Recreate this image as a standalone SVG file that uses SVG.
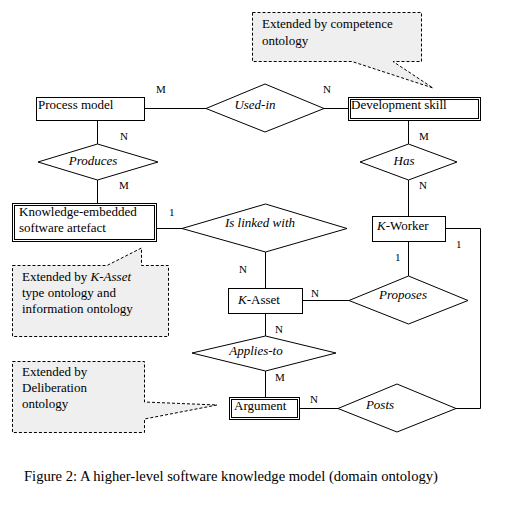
<svg xmlns="http://www.w3.org/2000/svg" width="516" height="506" viewBox="0 0 516 506" font-family="'Liberation Serif','Times New Roman',serif">
<style>
.b{fill:#fff;stroke:#000;stroke-width:1}
.d{fill:#fff;stroke:#000;stroke-width:1}
.c{fill:#efefef;stroke:#000;stroke-width:1;stroke-dasharray:3,2}
.ln{fill:none;stroke:#000;stroke-width:1}
text{font-family:"Liberation Serif","Times New Roman",serif;font-size:13px;fill:#000}
.i{font-style:italic}
.m{text-anchor:middle}
.s{font-size:11px}
.cap{font-size:14.6px}
</style>
<rect width="516" height="506" fill="#fff"/>
<g id="connectors">
<line class="ln" x1="144.5" y1="108.5" x2="206" y2="108.5"/>
<line class="ln" x1="324" y1="108.5" x2="348.5" y2="108.5"/>
<line class="ln" x1="97.5" y1="120.5" x2="97.5" y2="144"/>
<line class="ln" x1="97.5" y1="180" x2="97.5" y2="203.5"/>
<line class="ln" x1="156.5" y1="228.5" x2="182" y2="228.5"/>
<line class="ln" x1="265.5" y1="252" x2="265.5" y2="288.5"/>
<line class="ln" x1="265.5" y1="313.5" x2="265.5" y2="336"/>
<line class="ln" x1="265.5" y1="371" x2="265.5" y2="397.5"/>
<line class="ln" x1="302.5" y1="300.5" x2="349" y2="300.5"/>
<line class="ln" x1="408.5" y1="120.5" x2="408.5" y2="144"/>
<line class="ln" x1="408.5" y1="180" x2="408.5" y2="216.5"/>
<line class="ln" x1="408.5" y1="241.5" x2="408.5" y2="276"/>
<polyline class="ln" points="445.5,228.5 480.5,228.5 480.5,408.5 456,408.5"/>
<line class="ln" x1="299.5" y1="408.5" x2="338" y2="408.5"/>
<text class="s" x="156" y="93">M</text>
<text class="s" x="323" y="93">N</text>
<text class="s" x="120" y="140">N</text>
<text class="s" x="119" y="189">M</text>
<text class="s" x="419" y="140">M</text>
<text class="s" x="419" y="189">N</text>
<text class="s" x="169" y="216">1</text>
<text class="s" x="239" y="273">N</text>
<text class="s" x="311" y="297">N</text>
<text class="s" x="395" y="261">1</text>
<text class="s" x="456" y="248">1</text>
<text class="s" x="275" y="333">N</text>
<text class="s" x="275" y="381">M</text>
<text class="s" x="310" y="403">N</text>
</g>
<g id="callout-competence">
<path class="c" d="M252.5,12.5 H421.5 V61.5 H393 L433,88 L352,61.5 H252.5 Z"/>
<text x="262" y="28">Extended by competence</text>
<text x="262" y="45">ontology</text>
</g>
<g id="callout-kasset">
<path class="c" d="M12.5,265.5 H107 L141.5,248 V265.5 H168.5 V336.5 H12.5 Z"/>
<text x="22" y="281">Extended by <tspan class="i">K-Asset</tspan></text>
<text x="22" y="297">type ontology and</text>
<text x="22" y="313">information ontology</text>
</g>
<g id="callout-deliberation">
<path class="c" d="M12.5,361.5 H144.5 V402 L217,405 L144.5,419 V432.5 H12.5 Z"/>
<text x="22" y="376">Extended by</text>
<text x="22" y="392">Deliberation</text>
<text x="22" y="408">ontology</text>
</g>
<g id="process-model">
<rect class="b" x="36.5" y="97.5" width="108" height="23"/>
<text x="38" y="109">Process model</text>
</g>
<g id="used-in">
<polygon class="d" points="206,108.5 265,84 324,108.5 265,132"/>
<text class="i m" x="255" y="109">Used-in</text>
</g>
<g id="development-skill">
<rect class="b" x="348.5" y="97.5" width="132" height="23"/>
<rect class="b" x="350.5" y="99.5" width="128" height="19"/>
<text x="351" y="109">Development skill</text>
</g>
<g id="produces">
<polygon class="d" points="38,162 97.5,144 158,162 97.5,180"/>
<text class="i m" x="93" y="165">Produces</text>
</g>
<g id="has">
<polygon class="d" points="360,162 408.5,144 457,162 408.5,180"/>
<text class="i m" x="404" y="165">Has</text>
</g>
<g id="knowledge-embedded">
<rect class="b" x="12.5" y="203.5" width="144" height="38"/>
<rect class="b" x="14.5" y="205.5" width="140" height="34"/>
<text x="19" y="216">Knowledge-embedded</text>
<text x="19" y="232">software artefact</text>
</g>
<g id="is-linked-with">
<polygon class="d" points="182,228.5 265.5,204 347,228.5 265.5,252"/>
<text class="i m" x="260" y="227">Is linked with</text>
</g>
<g id="k-worker">
<rect class="b" x="372.5" y="216.5" width="73" height="25"/>
<text x="377" y="230"><tspan class="i">K</tspan>-Worker</text>
</g>
<g id="k-asset">
<rect class="b" x="228.5" y="288.5" width="74" height="25"/>
<text x="238" y="304"><tspan class="i">K</tspan>-Asset</text>
</g>
<g id="proposes">
<polygon class="d" points="349,300.5 408.5,276 468,300.5 408.5,324"/>
<text class="i m" x="403" y="299">Proposes</text>
</g>
<g id="applies-to">
<polygon class="d" points="192,353 265.5,336 336,353 265.5,371"/>
<text class="i m" x="256" y="355">Applies-to</text>
</g>
<g id="argument">
<rect class="b" x="229.5" y="397.5" width="70" height="22"/>
<rect class="b" x="231.5" y="399.5" width="66" height="18"/>
<text x="234" y="410">Argument</text>
</g>
<g id="posts">
<polygon class="d" points="338,408.5 397,384 456,408.5 397,432"/>
<text class="i m" x="380" y="409">Posts</text>
</g>
<text class="cap" x="24" y="481">Figure 2: A higher-level software knowledge model (domain ontology)</text>
</svg>
